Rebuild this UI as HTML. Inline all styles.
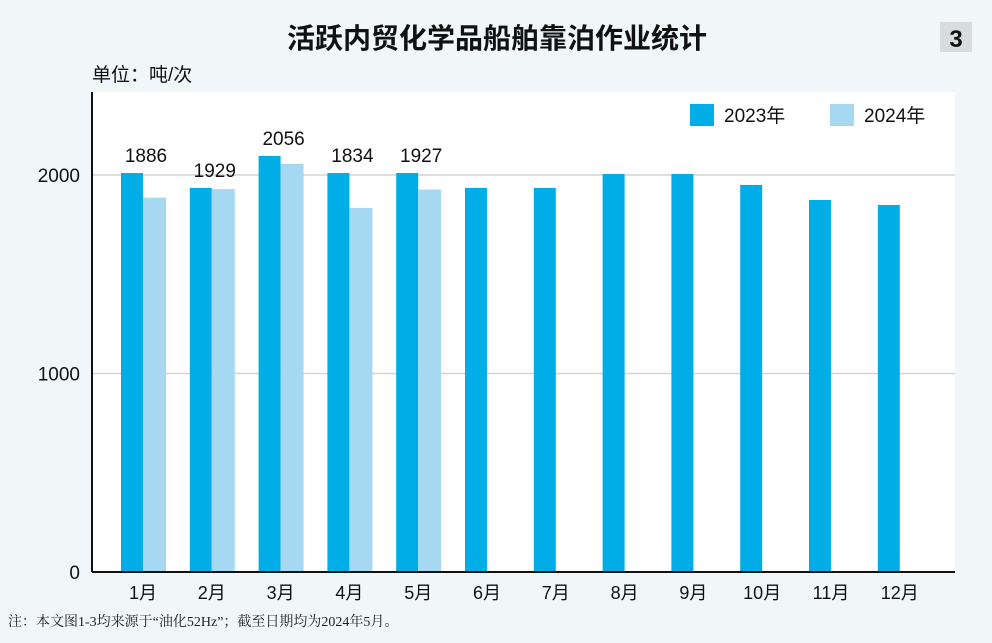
<!DOCTYPE html>
<html><head><meta charset="utf-8"><style>
body{margin:0;width:992px;height:638px;background:#f1f6f9;font-family:"Liberation Sans","Noto Sans CJK SC",sans-serif;overflow:hidden}
</style></head><body>
<svg width="992" height="638" xmlns="http://www.w3.org/2000/svg" font-family="Liberation Sans, Noto Sans CJK SC, sans-serif">
<rect x="92" y="92" width="863" height="480" fill="#ffffff"/>
<text x="497" y="48" text-anchor="middle" font-size="28" font-weight="bold" fill="#111">活跃内贸化学品船舶靠泊作业统计</text>
<rect x="940" y="22" width="32" height="30" fill="#d9dcde"/>
<text x="956" y="47" text-anchor="middle" font-size="24" font-weight="bold" fill="#111">3</text>
<text x="92" y="81" font-size="19" fill="#111">单位：吨/次</text>
<g id="grid"></g><g id="bars"></g><g id="labels"></g>
<line x1="92" y1="92" x2="92" y2="572" stroke="#111" stroke-width="2"/>
<line x1="92" y1="572" x2="955" y2="572" stroke="#111" stroke-width="2"/>
<g>
<rect x="690" y="104" width="24" height="22" fill="#00ade6"/>
<text x="724" y="122" font-size="19" fill="#111">2023年</text>
<rect x="830" y="104" width="24" height="22" fill="#a6d8f2"/>
<text x="864" y="122" font-size="19" fill="#111">2024年</text>
</g>
<text x="8" y="626" font-size="14" fill="#222" font-family="Liberation Serif, Noto Serif CJK SC, serif">注：本文图1-3均来源于“油化52Hz”；截至日期均为2024年5月。</text>
</svg>
<script>
const categories=["1月","2月","3月","4月","5月","6月","7月","8月","9月","10月","11月","12月"];
const values2023=[2010,1935,2096,2010,2010,1935,1935,2005,2005,1950,1874,1849];
const values2024=[1886,1929,2056,1834,1927];
const yTicks=[0,1000,2000];
const NS="http://www.w3.org/2000/svg";
const y=v=>572-v*0.1985;
const cx=i=>143+i*68.8;
function mk(t,a,p){const e=document.createElementNS(NS,t);for(const k in a)e.setAttribute(k,a[k]);document.getElementById(p).appendChild(e);return e;}
yTicks.forEach(t=>{
 if(t>0){const l=mk('line',{x1:92,x2:955,y1:y(t),y2:y(t),stroke:'#d4d4d4','stroke-width':1.5},'grid');
 
 }
 const tx=mk('text',{x:80,y:y(t)+7,'text-anchor':'end','font-size':19,fill:'#111'},'grid');tx.textContent=t;
 
 
});
categories.forEach((c,i)=>{
 const b=mk('rect',{x:cx(i)-22,y:y(values2023[i]),width:22,height:572-y(values2023[i]),fill:'#00ade6'},'bars');
 
 
 if(i<values2024.length){
  const b2=mk('rect',{x:cx(i),y:y(values2024[i]),width:23,height:572-y(values2024[i]),fill:'#a6d8f2'},'bars');
  
  
  const top=Math.min(y(values2023[i]),y(values2024[i]));
  const v=mk('text',{x:cx(i)+3,y:top-11,'text-anchor':'middle','font-size':19,fill:'#111'},'labels');v.textContent=values2024[i];
  
  
 }
 const t=mk('text',{x:cx(i),y:599,'text-anchor':'middle','font-size':18,fill:'#111'},'labels');t.textContent=c;
 
 
});
</script>
</body></html>
